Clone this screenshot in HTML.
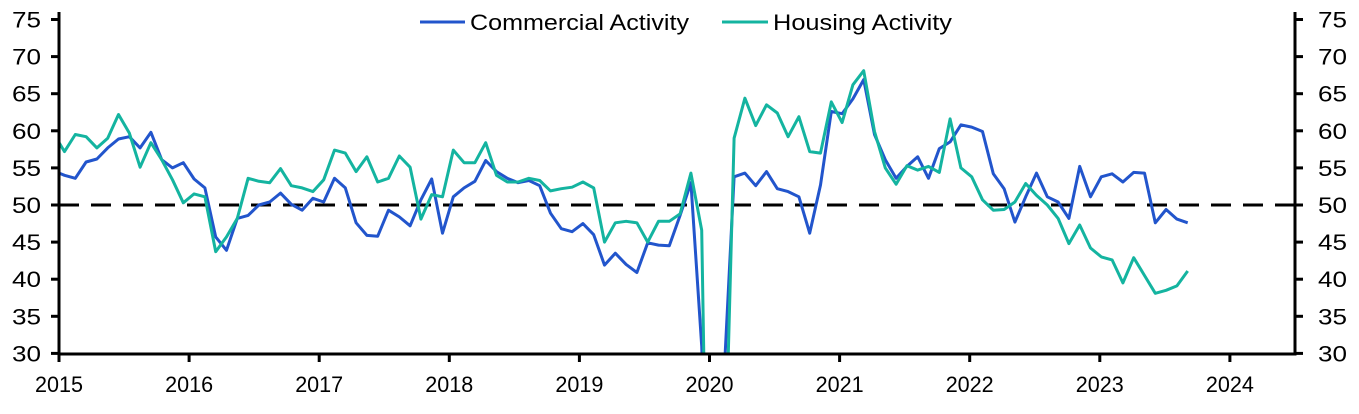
<!DOCTYPE html>
<html><head><meta charset="utf-8"><style>
html,body{margin:0;padding:0;background:#fff;overflow:hidden;width:1359px;height:414px;}
svg{display:block;font-family:"Liberation Sans",sans-serif;}
</style></head><body>
<svg id="c" width="1359" height="414" xmlns="http://www.w3.org/2000/svg">
<defs><clipPath id="cp"><rect x="59" y="0" width="1236" height="354"/></clipPath></defs>
<line x1="59" y1="205" x2="1295" y2="205" stroke="#000" stroke-width="3" stroke-dasharray="20,12"/>
<g id="series" clip-path="url(#cp)"></g>
<g stroke="#000" stroke-width="3" fill="none">
<line x1="59" y1="12" x2="59" y2="355.5"/>
<line x1="1295" y1="12" x2="1295" y2="355.5"/>
<line x1="57.5" y1="354" x2="1296.5" y2="354"/>
</g>
<g id="ticks" stroke="#000" stroke-width="3"></g>
<g id="labels" font-size="22" fill="#000"></g>
<rect x="410" y="4" width="560" height="34" fill="#fff"/>
<line x1="420" y1="22" x2="465" y2="22" stroke="#2255cc" stroke-width="3"/>
<text x="470" y="30" font-size="22" textLength="219" lengthAdjust="spacingAndGlyphs">Commercial Activity</text>
<line x1="722" y1="22" x2="768" y2="22" stroke="#14b4a0" stroke-width="3"/>
<text x="773" y="30" font-size="22" textLength="179" lengthAdjust="spacingAndGlyphs">Housing Activity</text>
</svg>
<script>
var y=function(v){return 205-(v-50)*7.42;};
var x=function(k){return 64.5+10.8*k;};
var blue=[54.6,54.0,53.6,55.8,56.2,57.7,58.9,59.2,57.7,59.8,56.1,55,55.7,53.5,52.3,45.7,43.9,48.2,48.6,50,50.4,51.6,50.1,49.3,50.9,50.4,53.6,52.3,47.6,45.9,45.8,49.3,48.4,47.2,50.7,53.5,46.2,51.1,52.3,53.2,56,
54.5,53.6,53,53.3,52.6,48.9,46.8,46.4,47.5,46,41.9,43.5,42,40.9,44.9,44.6,44.5,48.6,53,31,-10,25,
53.8,54.3,52.6,54.5,52.2,51.8,51.1,46.2,52.7,62.6,62.3,64.3,66.9,59.5,56.1,53.6,55.2,56.5,53.6,
57.6,58.5,60.8,60.5,59.9,54.2,52.2,47.7,51.1,54.3,51.1,50.4,48.2,55.2,51.1,53.8,54.2,53.1,54.4,54.3,47.6,49.4,48.1,47.6];
var teal=[59.6,57.2,59.5,59.2,57.7,59,62.2,59.7,55.1,58.4,56.1,53.4,50.3,51.5,51.1,43.7,45.7,48.2,53.6,53.2,53,54.9,52.6,52.3,51.8,53.4,57.4,57,54.5,56.5,53.1,53.6,56.6,55.1,48.1,51.4,51.1,57.4,55.7,55.7,58.4,
54,53.1,53.1,53.6,53.3,51.9,52.2,52.4,53.1,52.3,45,47.6,47.8,47.6,45,47.8,47.8,48.8,54.3,46.6,-40,5,
59,64.4,60.7,63.5,62.4,59.2,61.9,57.2,57,63.9,61.1,66.2,68.1,59.9,55,52.8,55.3,54.7,55.2,
54.4,61.6,55,53.8,50.7,49.3,49.4,50.4,52.9,51.3,50,48.2,44.8,47.3,44.2,43,42.6,39.5,42.9,40.5,38.1,38.5,39.1,41.1];
function path(d,col){var s="";for(var i=0;i<d.length;i++){s+=(i?"L":"M")+x(i-1).toFixed(1)+","+y(d[i]).toFixed(1);}
return '<path d="'+s+'" fill="none" stroke="'+col+'" stroke-width="3" stroke-linejoin="round"/>';}
document.getElementById("series").innerHTML=path(blue,"#2255cc")+path(teal,"#14b4a0");
var t="",l="";
for(var v=30;v<=75;v+=5){var yy=y(v);
t+='<line x1="51" y1="'+yy+'" x2="59" y2="'+yy+'"/><line x1="1295" y1="'+yy+'" x2="1303" y2="'+yy+'"/>';
l+='<text x="41" y="'+(yy+8)+'" text-anchor="end" textLength="29" lengthAdjust="spacingAndGlyphs">'+v+'</text><text x="1318" y="'+(yy+8)+'" textLength="29" lengthAdjust="spacingAndGlyphs">'+v+'</text>';}
for(var yr=2015;yr<=2024;yr++){var xx=59+(yr-2015)*130.1;
t+='<line x1="'+xx+'" y1="354" x2="'+xx+'" y2="362"/>';
l+='<text x="'+(xx-24)+'" y="392" textLength="48" lengthAdjust="spacingAndGlyphs">'+yr+'</text>';}
document.getElementById("ticks").innerHTML=t;
document.getElementById("labels").innerHTML=l;
</script>
</body></html>
